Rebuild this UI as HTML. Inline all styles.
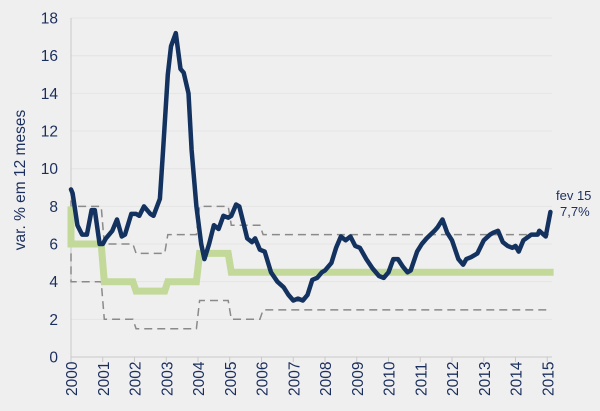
<!DOCTYPE html>
<html><head><meta charset="utf-8"><style>
body{margin:0;background:#efefef;}
svg{display:block;font-family:"Liberation Sans",sans-serif;}
</style></head><body>
<svg id="s" width="600" height="411" viewBox="0 0 600 411">
<rect width="600" height="411" fill="#efefef"/>
<g id="grid"></g>
<g id="lab" fill="#1b2f5e" font-size="15.5"></g>
<text transform="translate(25,180) rotate(-90)" text-anchor="middle" font-size="15.5" fill="#1b2f5e">var. % em 12 meses</text>
<text x="556" y="200" font-size="13" fill="#1b2f5e">fev 15</text>
<text x="560" y="216" font-size="13" fill="#1b2f5e">7,7%</text>
<g id="series"></g>
</svg>
<script>
const X=y=>71+(y-2000)*31.75, Y=v=>357-v*18.83;
let g='',l='';
for(let v=0;v<=18;v+=2){
 if(v>0)g+=`<line x1="71" x2="552" y1="${Y(v)}" y2="${Y(v)}" stroke="#e4e4e4" stroke-width="1"/>`;
 l+=`<text x="58" y="${Y(v)+5.5}" text-anchor="end">${v}</text>`;
}
g+=`<line x1="71" x2="71" y1="${Y(18)}" y2="357" stroke="#c8c8c8"/><line x1="71" x2="552" y1="357" y2="357" stroke="#c8c8c8"/>`;
for(let yr=2000;yr<=2015;yr++){
 const x=X(yr);
 g+=`<line x1="${x}" x2="${x}" y1="357" y2="362" stroke="#c8c8c8"/>`;
 l+=`<text transform="translate(${x+6},396) rotate(-90)" font-size="15.5">${yr}</text>`;
}
document.getElementById('grid').innerHTML=g;
document.getElementById('lab').innerHTML=l;
const ip=[[2000,8.9],[2000.05,8.7],[2000.2,7],[2000.35,6.5],[2000.5,6.5],[2000.65,7.8],[2000.75,7.8],[2000.9,6],[2001,6],[2001.1,6.3],[2001.3,6.7],[2001.45,7.3],[2001.6,6.4],[2001.7,6.5],[2001.9,7.6],[2002.05,7.6],[2002.15,7.5],[2002.3,8],[2002.5,7.6],[2002.6,7.5],[2002.8,8.4],[2002.9,11],[2003.05,15],[2003.15,16.5],[2003.3,17.2],[2003.45,15.3],[2003.55,15.1],[2003.7,14],[2003.8,11],[2003.95,8],[2004.1,6],[2004.2,5.2],[2004.35,6],[2004.5,7],[2004.65,6.8],[2004.8,7.5],[2004.95,7.4],[2005.05,7.5],[2005.2,8.1],[2005.3,8.0],[2005.45,7],[2005.55,6.3],[2005.7,6.1],[2005.8,6.3],[2005.95,5.7],[2006.1,5.6],[2006.3,4.5],[2006.5,4.0],[2006.7,3.7],[2006.85,3.3],[2007,3.0],[2007.15,3.1],[2007.3,3.0],[2007.45,3.3],[2007.6,4.1],[2007.75,4.2],[2007.9,4.5],[2008,4.6],[2008.2,5.0],[2008.35,5.8],[2008.5,6.4],[2008.65,6.2],[2008.8,6.4],[2008.95,5.9],[2009.1,5.8],[2009.3,5.2],[2009.5,4.7],[2009.7,4.3],[2009.85,4.2],[2010,4.5],[2010.15,5.2],[2010.3,5.2],[2010.45,4.8],[2010.6,4.5],[2010.7,4.6],[2010.9,5.6],[2011.05,6.0],[2011.2,6.3],[2011.45,6.7],[2011.55,6.9],[2011.7,7.3],[2011.85,6.6],[2012,6.2],[2012.2,5.2],[2012.35,4.9],[2012.45,5.2],[2012.6,5.3],[2012.8,5.5],[2013,6.2],[2013.2,6.5],[2013.3,6.6],[2013.45,6.7],[2013.6,6.1],[2013.75,5.9],[2013.9,5.8],[2014,5.9],[2014.1,5.6],[2014.25,6.2],[2014.5,6.5],[2014.7,6.5],[2014.75,6.7],[2014.95,6.4],[2015.1,7.7]];
function step(a,end){let p=[];a.forEach((s,i)=>{const x0=s[0],v=s[1];if(i==0)p.push([x0,v]);else p.push([x0+0.05,v]);const nx=i<a.length-1?a[i+1][0]:end;p.push([nx-0.05,v]);});return p;}
const pts=a=>a.map(p=>X(p[0]).toFixed(1)+','+Y(p[1]).toFixed(1)).join(' ');
const tgt=[[2000,6],[2001,4],[2002,3.5],[2003,4],[2004,5.5],[2005,4.5]];
const up=[[2000,8],[2001,6],[2002,5.5],[2003,6.5],[2004,8],[2005,7],[2006,6.5]];
const lo=[[2000,4],[2001,2],[2002,1.5],[2003,1.5],[2004,3],[2005,2],[2006,2.5]];
let tp=step(tgt,2015.2);tp.unshift([2000,8]);tp[tp.length-1][0]=2015.2;
let upp=step(up,2015);upp.unshift([2000,9]);upp[upp.length-1][0]=2015.05;
let lop=step(lo,2015);lop.unshift([2000,5.5]);lop[lop.length-1][0]=2015.05;
document.getElementById('series').innerHTML=
`<polyline points="${pts(upp)}" fill="none" stroke="#8a8a8a" stroke-width="1.5" stroke-dasharray="8,5"/>`+
`<polyline points="${pts(lop)}" fill="none" stroke="#8a8a8a" stroke-width="1.5" stroke-dasharray="8,5"/>`+
`<polyline points="${pts(tp)}" fill="none" stroke="#c2d99a" stroke-width="7"/>`+
`<polyline points="${pts(ip)}" fill="none" stroke="#13325f" stroke-width="4.5" stroke-linejoin="round" stroke-linecap="round"/>`;
</script>
</body></html>
